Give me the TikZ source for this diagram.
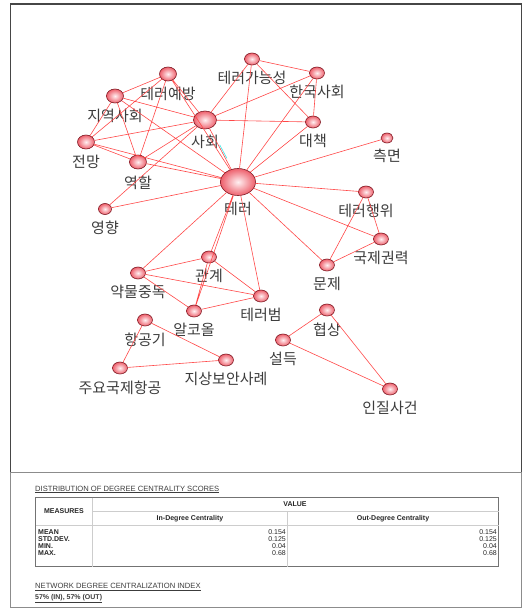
\documentclass[tikz,border=0pt]{standalone}
\usepackage{fontspec}
\setmainfont{Liberation Sans}
\newfontfamily\kfont{Noto Sans CJK KR}
\usepackage{tikz}
\usetikzlibrary{calc,shapes}
\definecolor{my_pink}{RGB}{238, 96, 108}
\definecolor{my_light}{RGB}{255, 240, 242}
\definecolor{my_dark}{RGB}{125, 25, 35}
\definecolor{my_edge}{RGB}{255, 72, 72}
\definecolor{my_cyan}{RGB}{60, 230, 230}
\definecolor{my_text}{RGB}{60, 60, 60}
\definecolor{my_frame}{RGB}{70, 70, 70}
\definecolor{my_grid}{RGB}{205, 205, 205}
\tikzset{
  vnode/.style = {ellipse, draw=my_dark, line width=0.6pt, inner sep=0pt, inner color=my_light,
  outer color=my_pink},
  v_s/.style = {vnode, minimum width=15pt, minimum height=12pt},
  v_m/.style = {vnode, minimum width=17pt, minimum height=14pt},
  v_l/.style = {vnode, minimum width=23pt, minimum height=18pt},
  v_xl/.style = {vnode, minimum width=35pt, minimum height=27pt},
  lbl/.style = {font=\kfont\fontsize{15}{15}\selectfont, text=my_text, inner sep=0pt, yshift=-6pt}
}

\begin{document}
\begin{tikzpicture}[x=1pt,y=-1pt,
        edge/.style={draw=my_edge, line width=0.6pt},
        cyan_edge/.style={draw=my_cyan, line width=0.6pt},
        ttl/.style={font=\fontsize{7.6}{9}\selectfont, text=my_text, inner sep=0pt},
        hdr/.style={font=\bfseries\fontsize{7}{8}\selectfont, text=black!85, inner sep=0pt},
        cell/.style={font=\fontsize{7}{7.2}\selectfont, text=black!85, inner sep=0pt}]
    \useasboundingbox (0,0) rectangle (525,611);
    \draw[my_frame, line width=1.5pt] (10.5,4) rectangle (521.5,472.5);
    \draw[black!45, line width=1pt] (10.5,472.5) rectangle (521.5,607.5);

    % network
    \node [v_xl, label={[lbl]below:테러}] (n_teror) at (238,182) {};
    \node [v_l, label={[lbl]below:사회}] (n_sahoe) at (205,120) {};
    \node [v_m, label={[lbl]below:테러예방}] (n_yebang) at (168,74) {};
    \node [v_m, label={[lbl]below:지역사회}] (n_jiyeok) at (115,96) {};
    \node [v_m, label={[lbl]below:전망}] (n_jeonmang) at (86,142) {};
    \node [v_m, label={[lbl]below:역할}] (n_yeokhal) at (138,162) {};
    \node [v_s, minimum width=13pt, minimum height=11pt, label={[lbl]below:영향}] (n_yeonghyang) at (105,209) {};
    \node [v_s, label={[lbl]below:테러가능성}] (n_ganeung) at (252,59) {};
    \node [v_s, label={[lbl]below:한국사회}] (n_hanguk) at (317,73) {};
    \node [v_s, label={[lbl]below:대책}] (n_daechaek) at (313,122) {};
    \node [v_s, minimum width=12pt, minimum height=10pt, label={[lbl]below:측면}] (n_cheukmyeon) at (387,138) {};
    \node [v_s, label={[lbl]below:테러행위}] (n_haengwi) at (366,192) {};
    \node [v_s, label={[lbl]below:국제권력}] (n_gwollyeok) at (381,239) {};
    \node [v_s, label={[lbl]below:문제}] (n_munje) at (327,265) {};
    \node [v_s, label={[lbl]below:협상}] (n_hyeopsang) at (327,310) {};
    \node [v_s, label={[lbl]below:설득}] (n_seoldeuk) at (283,340) {};
    \node [v_s, label={[lbl]below:인질사건}] (n_injil) at (390,389) {};
    \node [v_s, label={[lbl]below:관계}] (n_gwangye) at (209,257) {};
    \node [v_s, label={[lbl]below:약물중독}] (n_yakmul) at (138,273) {};
    \node [v_s, label={[lbl]below:테러범}] (n_beom) at (261,296) {};
    \node [v_s, label={[lbl]below:알코올}] (n_alkool) at (194,311) {};
    \node [v_s, label={[lbl]below:항공기}] (n_hanggonggi) at (145,320) {};
    \node [v_s, label={[lbl]below:주요국제항공}] (n_juyo) at (120,368) {};
    \node [v_s, label={[lbl]below:지상보안사례}] (n_jisang) at (226,360) {};

    \draw[edge] (n_jiyeok) -- (n_yebang) (n_jeonmang) -- (n_yebang) (n_jeonmang) -- (n_jiyeok)
        (n_jiyeok) -- (n_sahoe) (n_jiyeok) -- (n_yeokhal) (n_jiyeok) -- (n_teror)
        (n_yebang) -- (n_yeokhal) (n_yebang) -- (n_sahoe) (n_yebang) -- (n_teror)
        (n_jeonmang) -- (n_sahoe) (n_jeonmang) -- (n_yeokhal) (n_jeonmang) -- (n_teror)
        (n_yeokhal) -- (n_sahoe) (n_yeokhal) -- (n_teror)
        (n_yeonghyang) -- (n_sahoe) (n_yeonghyang) -- (n_teror) (n_sahoe) -- (n_teror);
    \draw[edge] (n_ganeung) -- (n_hanguk) (n_ganeung) -- (n_daechaek) (n_ganeung) -- (n_teror)
        (n_ganeung) -- (n_sahoe) (n_hanguk) -- (n_daechaek) (n_hanguk) -- (n_sahoe)
        (n_hanguk) -- (n_teror) (n_sahoe) -- (n_daechaek) (n_daechaek) -- (n_teror)
        (n_cheukmyeon) -- (n_teror) (n_haengwi) -- (n_teror) (n_gwollyeok) -- (n_teror)
        (n_teror) -- (n_munje) (n_haengwi) -- (n_gwollyeok) (n_haengwi) -- (n_munje)
        (n_gwollyeok) -- (n_munje);
    \draw[edge] (n_teror) -- (n_gwangye) (n_teror) -- (n_alkool) (n_gwangye) -- (n_alkool)
        (n_teror) -- (n_beom) (n_teror) -- (n_yakmul) (n_yakmul) -- (n_gwangye)
        (n_yakmul) -- (n_beom) (n_yakmul) -- (n_alkool) (n_gwangye) -- (n_beom)
        (n_alkool) -- (n_beom) (n_hanggonggi) -- (n_jisang) (n_hanggonggi) -- (n_juyo)
        (n_juyo) -- (n_jisang) (n_hyeopsang) -- (n_seoldeuk) (n_hyeopsang) -- (n_injil)
        (n_seoldeuk) -- (n_injil);
    \draw[cyan_edge] ($(n_sahoe)!0.4!(n_teror)+(1.5,0)$) -- ($(n_sahoe)!0.62!(n_teror)+(1.5,0)$);

    % centrality table
    \node [ttl, anchor=base west] (t_dist) at (35,491) {\underline{DISTRIBUTION OF DEGREE CENTRALITY SCORES}};
    \draw[black!55, line width=0.8pt] (35.5,497.5) rectangle (498.5,566.5);
    \draw[my_grid, line width=0.8pt] (92.5,497.5) -- (92.5,566.5) (92.5,511.5) -- (498.5,511.5)
        (35.5,525.5) -- (498.5,525.5) (287.5,511.5) -- (287.5,566.5);
    \node [hdr] (t_meas) at (64,511.5) {MEASURES};
    \node [hdr] (t_val) at (295,504.5) {VALUE};
    \node [hdr] (t_in) at (190,518.5) {In-Degree Centrality};
    \node [hdr] (t_out) at (393,518.5) {Out-Degree Centrality};
    \node [cell, font=\bfseries\fontsize{7}{7.2}\selectfont, align=left, anchor=west] (t_rows) at (38,542.5)
        {MEAN\\STD.DEV.\\MIN.\\MAX.};
    \node [cell, align=right, anchor=east] (t_inv) at (286,542.5) {0.154\\0.125\\0.04\\0.68};
    \node [cell, align=right, anchor=east] (t_outv) at (497,542.5) {0.154\\0.125\\0.04\\0.68};
    \node [ttl, anchor=base west] (t_index) at (35,588.5) {\underline{NETWORK DEGREE CENTRALIZATION INDEX}};
    \node [ttl, font=\bfseries\fontsize{7}{9}\selectfont, anchor=base west] (t_pct) at (35,599.5)
        {\underline{57\% (IN), 57\% (OUT)}};
\end{tikzpicture}
\end{document}
